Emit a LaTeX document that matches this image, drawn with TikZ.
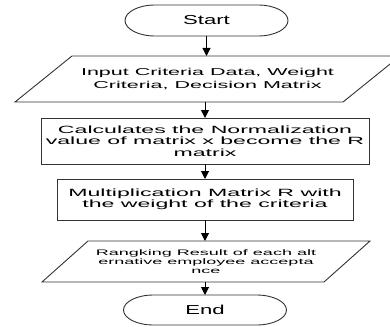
\documentclass[tikz,border=0pt]{standalone}
\usepackage{fontspec}
\setmainfont{Liberation Sans}
\newfontfamily\procfont[FakeStretch=2.2]{Liberation Sans}
\newfontfamily\iofont[FakeStretch=2.15]{Liberation Sans}
\newfontfamily\iosfont[FakeStretch=2.25]{Liberation Sans}
\newfontfamily\termfont[FakeStretch=1.7]{Liberation Sans}
\usetikzlibrary{arrows.meta}
\begin{document}
\begin{tikzpicture}[x=1pt,y=-1pt,
  every node/.style={inner sep=0pt,outer sep=0pt},
  outline/.style={draw=black!80,line width=0.9pt},
  arr/.style={draw=black,line width=1pt,-{Triangle[width=8pt,length=8pt]}},
  term/.style={minimum width=163pt,minimum height=31pt,
    font=\termfont\fontsize{13}{14}\selectfont},
  proc/.style={rectangle,outline,align=center,
    font=\procfont\fontsize{10.5}{11.5}\selectfont},
  iobig/.style={align=center,font=\iofont\fontsize{10}{13}\selectfont},
  iosmall/.style={align=center,font=\iosfont\fontsize{8}{9}\selectfont}]
\useasboundingbox (0,0) rectangle (390,326);
\clip (0,0) rectangle (390,326);

\node[term] (start) at (206.5,20.5) {Start};
\draw[outline] ([xshift=30pt]start.north west) -- ([xshift=-30pt]start.north east)
  arc[start angle=90,end angle=-90,x radius=30pt,y radius=15.5pt]
  -- ([xshift=30pt]start.south west)
  arc[start angle=270,end angle=90,x radius=30pt,y radius=15.5pt] -- cycle;

\node[iobig,minimum width=328pt,minimum height=46pt] (in) at (207.5,79)
  {Input Criteria Data, Weight\\Criteria, Decision Matrix};
\draw[outline] ([xshift=-28.5pt]in.south west) -- ([xshift=-28.5pt]in.south east)
  -- ([xshift=28.5pt]in.north east) -- ([xshift=28.5pt]in.north west) -- cycle;

\node[proc,minimum width=328pt,minimum height=46pt] (calc) at (205,141)
  {Calculates the Normalization\\value of matrix x become the R\\matrix};

\node[proc,minimum width=296pt,minimum height=41pt] (mult) at (205,199.5)
  {Multiplication Matrix R with\\the weight of the criteria};

\node[iosmall,minimum width=282pt,minimum height=41pt] (rank) at (206,261.5)
  {Rangking Result of each alt\\ernative employee accepta\\nce};
\draw[outline] ([xshift=-23pt]rank.south west) -- ([xshift=-23pt]rank.south east)
  -- ([xshift=23pt]rank.north east) -- ([xshift=23pt]rank.north west) -- cycle;

\node[term,minimum height=30pt] (end) at (205,310) {End};
\draw[outline] ([xshift=30pt]end.north west) -- ([xshift=-30pt]end.north east)
  arc[start angle=90,end angle=-90,x radius=30pt,y radius=15pt]
  -- ([xshift=30pt]end.south west)
  arc[start angle=270,end angle=90,x radius=30pt,y radius=15pt] -- cycle;

\draw[arr] (start.south) -- (start.south |- in.north);
\draw[arr] (calc.north |- in.south) -- (calc.north);
\draw[arr] (calc.south) -- (mult.north);
\draw[arr] (mult.south) -- (mult.south |- rank.north);
\draw[arr] (end.north |- rank.south) -- (end.north);
\end{tikzpicture}
\end{document}
